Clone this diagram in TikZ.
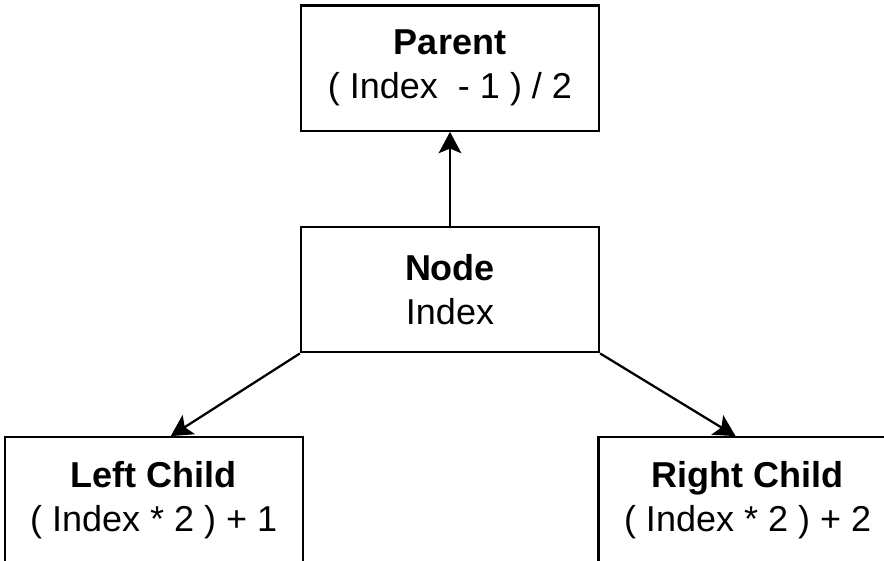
\documentclass[tikz,border=0pt]{standalone}
\usepackage{fontspec}
\setmainfont{Liberation Sans}
\usetikzlibrary{positioning,calc,arrows.meta}

\begin{document}
\begin{tikzpicture}[>={Stealth[length=16pt,width=17pt,inset=3.5pt]},line width=1.7pt,
  box/.style={draw,minimum width=223.5pt,minimum height=94pt,align=center,inner sep=0pt,font=\fontsize{27}{33}\selectfont}]
\useasboundingbox (-337.5pt,217.25pt) rectangle ++(663pt,-420pt);
\node[box] (nd) at (0,0) {\textbf{Node}\\Index};
\node[box,above=70.5pt of nd] (par) {\textbf{Parent}\\( Index~~- 1 ) / 2};
\node[box,below left=62pt and -3pt of nd] (lc) {\textbf{Left Child}\\( Index * 2 ) + 1};
\node[box,below right=62pt and -2pt of nd] (rc) {\textbf{Right Child}\\( Index * 2 ) + 2};
\coordinate (lcin) at ($(lc.north)+(12.75pt,0)$);
\coordinate (rcin) at ($(rc.north)+(-9pt,0)$);
\draw[->] (nd) -- (par); \draw[->] (nd.south west) -- (lcin);
\draw[->] (nd.south east) -- (rcin);
\end{tikzpicture}
\end{document}
